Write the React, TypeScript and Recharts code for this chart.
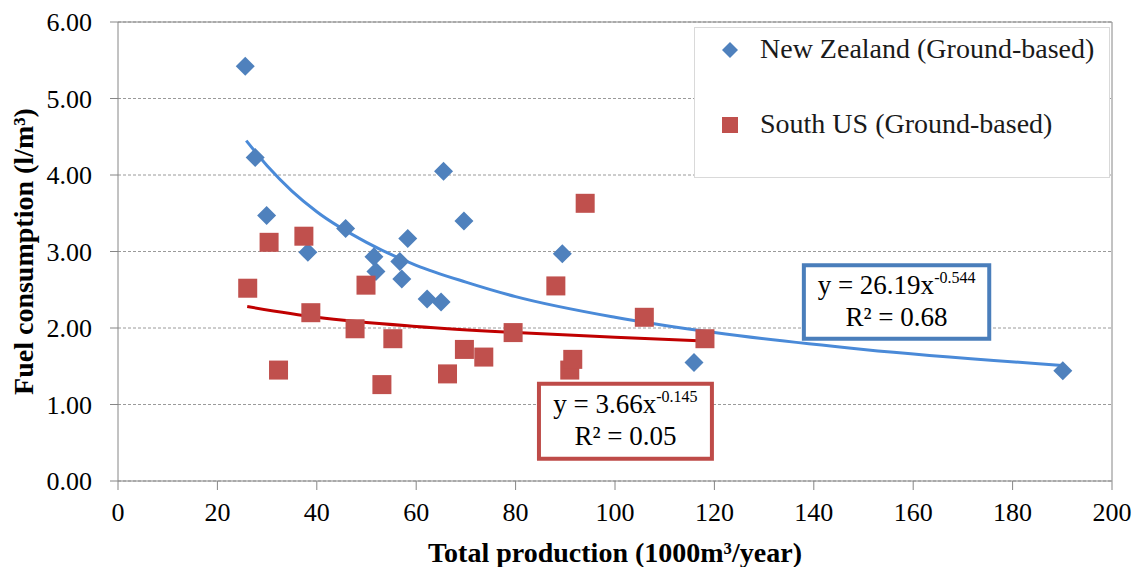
import React from 'react';
import {
  ComposedChart, Scatter, Line, XAxis, YAxis, CartesianGrid,
  ReferenceLine, ReferenceArea, Legend, Label,
} from 'recharts';

// New Zealand (Ground-based)
const nzProduction = [25.6, 27.6, 29.9, 38.2, 45.8, 51.5, 51.9, 56.7, 57.1, 58.3, 62.2, 65.0, 65.5, 69.6, 89.4, 115.9, 190.1];
const nzFuel = [5.42, 4.23, 3.47, 2.99, 3.30, 2.93, 2.74, 2.87, 2.64, 3.17, 2.38, 2.34, 4.05, 3.40, 2.97, 1.55, 1.44];

// South US (Ground-based)
const usProduction = [26.1, 30.4, 32.3, 37.4, 38.8, 47.7, 49.9, 53.1, 55.3, 66.3, 69.7, 73.6, 79.5, 88.1, 90.9, 91.5, 94.0, 105.9, 118.1];
const usFuel = [2.52, 3.12, 1.45, 3.20, 2.20, 1.99, 2.56, 1.26, 1.86, 1.40, 1.72, 1.62, 1.94, 2.55, 1.45, 1.59, 3.63, 2.14, 1.86];

// power trend lines
const nzTrendX = [25.8, 30, 35, 40, 50, 60, 70, 80, 100, 120, 150, 190];
const nzTrendY = [4.45, 4.12, 3.79, 3.52, 3.12, 2.82, 2.60, 2.41, 2.14, 1.94, 1.72, 1.51];
const usTrendX = [26, 40, 60, 80, 100, 118];
const usTrendY = [2.28, 2.14, 2.02, 1.94, 1.88, 1.83];

const xTicks = [0, 20, 40, 60, 80, 100, 120, 140, 160, 180, 200];
const yTicks = [0, 1, 2, 3, 4, 5, 6];

const seriesNames = ['New Zealand (Ground-based)', 'South US (Ground-based)'];

const FONT = '"Liberation Serif", "Times New Roman", serif';
const BLUE = '#4f81bd';
const RED = '#c0504d';
const AXIS = '#868686';

const nzData = nzProduction.map((x, i) => ({ x, y: nzFuel[i] }));
const usData = usProduction.map((x, i) => ({ x, y: usFuel[i] }));
const nzTrend = nzTrendX.map((x, i) => ({ x, y: nzTrendY[i] }));
const usTrend = usTrendX.map((x, i) => ({ x, y: usTrendY[i] }));

const Diamond = (props: any) => {
  const { cx, cy } = props;
  const r = 9.5;
  return <polygon points={`${cx},${cy - r} ${cx + r},${cy} ${cx},${cy + r} ${cx - r},${cy}`} fill={BLUE} />;
};

const Square = (props: any) => {
  const { cx, cy } = props;
  const s = 19;
  return <rect x={cx - s / 2} y={cy - s / 2} width={s} height={s} fill={RED} />;
};

const EquationLabel = (props: any) => {
  const vb = props.viewBox || {};
  const cx = vb.x + vb.width / 2;
  return (
    <text fontFamily={FONT} fill="#000" textAnchor="middle">
      <tspan x={cx} y={vb.y + 29} fontSize={27}>
        {'y = ' + props.coef + 'x'}
        <tspan fontSize={16} dy={-11}>{props.power}</tspan>
      </tspan>
      <tspan x={cx} y={vb.y + 61} fontSize={27}>{'R² = ' + props.r2}</tspan>
    </text>
  );
};

const LegendBox = () => (
  <svg width={416} height={151} style={{ display: 'block' }}>
    <rect x={0.5} y={0.5} width={415} height={150} fill="#fff" stroke="#d9d9d9" />
    <polygon points="28,23 36,15 44,23 36,31" fill={BLUE} />
    <text x={66} y={31} fontFamily={FONT} fontSize={28} fill="#1a1a1a">{seriesNames[0]}</text>
    <rect x={28} y={90} width={16} height={16} fill={RED} />
    <text x={66} y={106} fontFamily={FONT} fontSize={28} fill="#1a1a1a">{seriesNames[1]}</text>
  </svg>
);

export default function App() {
  const tickStyle = { fontFamily: FONT, fontSize: 26, fill: '#000' };
  return (
    <div style={{ position: 'fixed', left: 0, top: 0, width: 1138, height: 567, background: '#fff' }}>
      <ComposedChart width={1138} height={567} margin={{ top: 22, right: 26, bottom: 16, left: 0 }}>
        <CartesianGrid vertical={false} stroke="#9a9a9a" strokeDasharray="3 2" />
        <XAxis
          type="number"
          dataKey="x"
          domain={[0, 200]}
          ticks={xTicks}
          height={70}
          tickSize={9}
          tickMargin={13}
          tick={tickStyle}
          stroke={AXIS}
          allowDataOverflow
        >
          <Label
            content={(p: any) => {
              const vb = p.viewBox || {};
              return (
                <text x={vb.x + vb.width / 2} y={vb.y + 81} textAnchor="middle" fontFamily={FONT} fontSize={28} fontWeight="bold" fill="#000">
                  Total production (1000m³/year)
                </text>
              );
            }}
          />
        </XAxis>
        <YAxis
          type="number"
          dataKey="y"
          domain={[0, 6]}
          ticks={yTicks}
          width={118}
          tickSize={8}
          tickMargin={18}
          tick={tickStyle}
          tickFormatter={(v: number) => v.toFixed(2)}
          stroke={AXIS}
          allowDataOverflow
        >
          <Label
            content={(p: any) => {
              const vb = p.viewBox || {};
              const cx = vb.x + 33;
              const cy = vb.y + vb.height / 2;
              return (
                <text x={cx} y={cy} transform={`rotate(-90 ${cx} ${cy})`} textAnchor="middle" fontFamily={FONT} fontSize={28} fontWeight="bold" fill="#000">
                  Fuel consumption (l/m³)
                </text>
              );
            }}
          />
        </YAxis>
        <ReferenceLine y={6} stroke={AXIS} strokeWidth={1} />
        <ReferenceLine x={200} stroke={AXIS} strokeWidth={1} />
        <Scatter name={seriesNames[0]} data={nzData} dataKey="y" shape={Diamond} isAnimationActive={false} />
        <Scatter name={seriesNames[1]} data={usData} dataKey="y" shape={Square} isAnimationActive={false} />
        <Line data={nzTrend} dataKey="y" type="monotone" stroke="#4a8ad8" strokeWidth={3} dot={false} activeDot={false} legendType="none" isAnimationActive={false} />
        <Line data={usTrend} dataKey="y" type="monotone" stroke="#c00000" strokeWidth={3} dot={false} activeDot={false} legendType="none" isAnimationActive={false} />
        <ReferenceArea
          x1={138} x2={175.3} y1={1.86} y2={2.82}
          fill="#fff" fillOpacity={1} stroke="#4a7ebb" strokeWidth={4}
          label={(p: any) => <EquationLabel {...p} coef="26.19" power="-0.544" r2="0.68" />}
        />
        <ReferenceArea
          x1={84.7} x2={119.5} y1={0.29} y2={1.27}
          fill="#fff" fillOpacity={1} stroke="#be4b48" strokeWidth={4}
          label={(p: any) => <EquationLabel {...p} coef="3.66" power="-0.145" r2="0.05" />}
        />
        <Legend
          layout="vertical"
          align="center"
          verticalAlign="middle"
          wrapperStyle={{ left: 694, top: 27, width: 416, height: 151 }}
          content={() => <LegendBox />}
        />
      </ComposedChart>
    </div>
  );
}
